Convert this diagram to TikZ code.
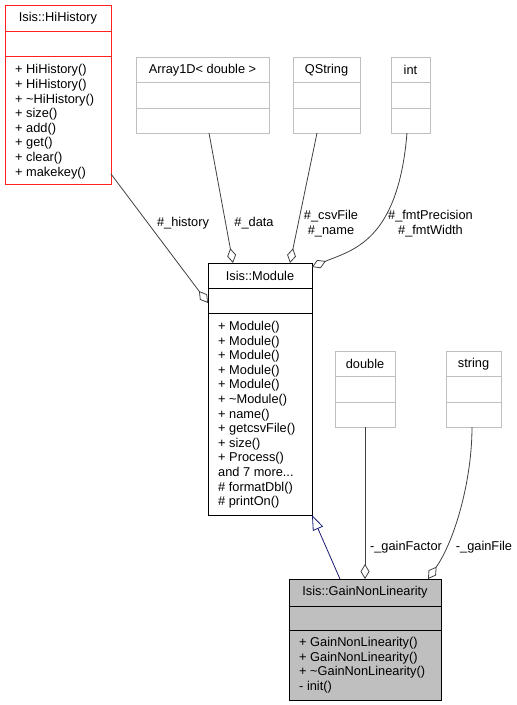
\documentclass[tikz,border=0pt]{standalone}
\usepackage{fontspec}
\setmainfont{Liberation Sans}
\usetikzlibrary{arrows.meta}
\definecolor{edgegray}{HTML}{404040}
\definecolor{boxgray}{HTML}{BFBFBF}
\definecolor{inhblue}{HTML}{191970}
\definecolor{boxred}{HTML}{FF2020}
\tikzset{
  every node/.style={font=\fontsize{12.8}{14.6}\selectfont},
  cls/.style={draw, line width=0.9pt, rectangle, inner sep=0pt, outer sep=0pt, anchor=north west},
  plaincls/.style={cls, draw=boxgray},
  redcls/.style={cls, draw=boxred},
  blackcls/.style={cls, draw=black},
  focuscls/.style={cls, draw=black, fill=boxgray},
  ttl/.style={inner sep=0pt, anchor=center},
  mth/.style={inner sep=0pt, anchor=north west, align=left},
  lbl/.style={inner sep=0pt, anchor=center, align=center},
  agg/.style={draw=edgegray, line width=0.8pt, {Diamond[open, length=15pt, width=9pt]}-},
  inh/.style={draw=inhblue, line width=0.8pt, {Triangle[open, length=15pt, width=11pt]}-},
}
\begin{document}
\begin{tikzpicture}[x=1pt, y=-1pt]
\useasboundingbox (0,0) rectangle (517,705);

% Isis::HiHistory
\node[redcls, minimum width=106pt, minimum height=179pt] (hih) at (5,5) {};
\draw[boxred, line width=0.9pt] (5,31.5) -- (111,31.5) (5,56.5) -- (111,56.5);
\node[ttl] (hihT) at (58,18.5) {Isis::HiHistory};
\node[mth] (hihM) at (15,64.5) {+ HiHistory()\\+ HiHistory()\\+ \textasciitilde HiHistory()\\+ size()\\+ add()\\+ get()\\+ clear()\\+ makekey()};

% Array1D< double >
\node[plaincls, minimum width=133pt, minimum height=76pt] (arr) at (136,57) {};
\draw[boxgray, line width=0.9pt] (136,82.5) -- (269,82.5) (136,108) -- (269,108);
\node[ttl] (arrT) at (202.5,70) {Array1D< double >};

% QString
\node[plaincls, minimum width=67pt, minimum height=76pt] (qs) at (293,57) {};
\draw[boxgray, line width=0.9pt] (293,82.5) -- (360,82.5) (293,108) -- (360,108);
\node[ttl] (qsT) at (326.5,70) {QString};

% int
\node[plaincls, minimum width=39pt, minimum height=76pt] (int) at (391,57) {};
\draw[boxgray, line width=0.9pt] (391,82.5) -- (430,82.5) (391,108) -- (430,108);
\node[ttl] (intT) at (410.5,70) {int};

% Isis::Module
\node[blackcls, minimum width=104pt, minimum height=252pt] (mod) at (208,263) {};
\draw[black, line width=0.9pt] (208,288) -- (312,288) (208,313) -- (312,313);
\node[ttl] (modT) at (260,276) {Isis::Module};
\node[mth] (modM) at (218,321) {+ Module()\\+ Module()\\+ Module()\\+ Module()\\+ Module()\\+ \textasciitilde Module()\\+ name()\\+ getcsvFile()\\+ size()\\+ Process()\\and 7 more...\\\# formatDbl()\\\# printOn()};

% double
\node[plaincls, minimum width=60pt, minimum height=76pt] (dbl) at (335,351) {};
\draw[boxgray, line width=0.9pt] (335,376.5) -- (395,376.5) (335,402) -- (395,402);
\node[ttl] (dblT) at (365,364) {double};

% string
\node[plaincls, minimum width=55pt, minimum height=76pt] (str) at (446,351) {};
\draw[boxgray, line width=0.9pt] (446,376.5) -- (501,376.5) (446,402) -- (501,402);
\node[ttl] (strT) at (473.5,364) {string};

% Isis::GainNonLinearity
\node[focuscls, minimum width=152pt, minimum height=121pt] (gnl) at (289,579) {};
\draw[black, line width=0.9pt] (289,606) -- (441,606) (289,630) -- (441,630);
\node[ttl] (gnlT) at (365,592.5) {Isis::GainNonLinearity};
\node[mth] (gnlM) at (299,637) {+ GainNonLinearity()\\+ GainNonLinearity()\\+ \textasciitilde GainNonLinearity()\\- init()};

% connectors
\draw[agg] ([yshift=-40pt]mod.north west) -- ([yshift=10pt]hih.south east);
\draw[agg] ([xshift=25pt]mod.north west) -- ([xshift=73pt]arr.south west);
\draw[agg] ([xshift=82pt]mod.north west) -- ([xshift=24pt]qs.south west);
\draw[agg] ([yshift=-4pt]mod.north east) .. controls (352,250) and (398,242) .. ([xshift=16pt]int.south west);
\draw[inh] (mod.south east) -- ([xshift=51pt]gnl.north west);
\draw[agg] ([xshift=76pt]gnl.north west) -- ([xshift=30pt]dbl.south west);
\draw[agg] ([xshift=139pt]gnl.north west) .. controls (455,540) and (472,480) .. ([xshift=26pt]str.south west);

% labels
\node[lbl] (lhist) at (183,223) {\#\_history};
\node[lbl] (ldata) at (254,223) {\#\_data};
\node[lbl] (lcsv) at (331,223.5) {\#\_csvFile\\\#\_name};
\node[lbl] (lfmt) at (430.5,223.5) {\#\_fmtPrecision\\\#\_fmtWidth};
\node[lbl] (lgf) at (406,547) {-\_gainFactor};
\node[lbl] (lgfile) at (484,547) {-\_gainFile};
\end{tikzpicture}
\end{document}
